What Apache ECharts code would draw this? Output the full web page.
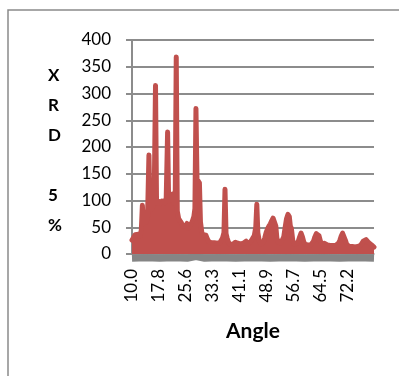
<!DOCTYPE html>
<html>
<head>
<meta charset="utf-8">
<script src="https://cdn.jsdelivr.net/npm/echarts@6/dist/echarts.min.js"></script>
<style>
  html, body { margin: 0; padding: 0; background: #ffffff; }
  #chart { width: 399px; height: 376px; }
</style>
</head>
<body>
<div id="chart"></div>
<script>
// XRD pattern, 5% sample: diffraction angle (deg) vs intensity
const angle = [
  10.0, 10.4, 10.9, 11.4, 11.9, 12.3, 12.7, 13.0, 13.3, 13.7, 14.1, 14.5, 14.9, 15.2, 15.6, 16.0,
  16.4, 16.8, 17.1, 17.5, 17.9, 18.3, 18.7, 19.1, 19.5, 19.9, 20.3, 20.6, 21.0, 21.4, 21.7, 22.1,
  22.5, 22.8, 23.1, 23.5, 23.9, 24.3, 24.7, 25.1, 25.5, 25.9, 26.3, 26.7, 27.1, 27.5, 27.9, 28.2,
  28.5, 28.8, 29.2, 29.5, 29.8, 30.2, 30.6, 31.0, 31.4, 31.8, 32.2, 32.6, 33.0, 33.4, 33.8, 34.2,
  34.6, 35.0, 35.4, 35.8, 36.2, 36.6, 36.9, 37.2, 37.5, 37.9, 38.3, 38.7, 39.1, 39.5, 39.9, 40.2,
  40.6, 41.0, 41.4, 41.8, 42.2, 42.6, 43.0, 43.4, 43.8, 44.2, 44.6, 45.0, 45.4, 45.8, 46.1, 46.4,
  46.8, 47.2, 47.6, 48.0, 48.4, 48.8, 49.2, 49.6, 50.0, 50.4, 50.8, 51.2, 51.6, 51.9, 52.3, 52.7,
  53.1, 53.5, 53.9, 54.3, 54.7, 55.1, 55.5, 55.8, 56.1, 56.5, 56.9, 57.3, 57.7, 58.1, 58.5, 58.9,
  59.3, 59.7, 60.1, 60.5, 60.9, 61.3, 61.7, 62.1, 62.5, 62.9, 63.3, 63.7, 64.1, 64.5, 64.9, 65.3,
  65.7, 66.1, 66.5, 66.9, 67.3, 67.7, 68.1, 68.5, 68.9, 69.3, 69.7, 70.1, 70.5, 70.9, 71.3, 71.7,
  72.1, 72.5, 72.9, 73.3, 73.7, 74.1, 74.5, 74.9, 75.3, 75.7, 76.1, 76.5, 76.9, 77.3, 77.7, 78.1,
  78.5, 78.9, 79.3, 79.7, 80.0
];
const intensity = [
  26, 30, 36, 35, 37, 33, 45, 91, 58, 55, 60, 70, 185, 88, 84, 88,
  95, 315, 95, 92, 98, 94, 99, 100, 96, 105, 228, 98, 100, 108, 112, 95,
  100, 368, 80, 66, 62, 58, 52, 50, 53, 57, 48, 52, 56, 62, 70, 85,
  272, 140, 138, 133, 60, 40, 36, 38, 35, 28, 23, 22, 21, 24, 21, 22,
  20, 22, 21, 24, 30, 40, 121, 38, 30, 22, 18, 20, 18, 19, 22, 25,
  20, 17, 19, 17, 20, 23, 24, 19, 21, 22, 26, 30, 35, 50, 93, 40,
  25, 19, 17, 22, 30, 40, 47, 52, 56, 62, 67, 66, 52, 30, 22, 19,
  21, 24, 32, 50, 66, 74, 70, 52, 48, 25, 18, 17, 20, 24, 32, 39,
  32, 22, 18, 20, 17, 18, 17, 20, 24, 32, 38, 39, 34, 24, 19, 18,
  20, 18, 17, 18, 16, 18, 16, 17, 16, 18, 20, 25, 33, 39, 36, 26,
  18, 16, 14, 16, 14, 15, 13, 16, 14, 13, 16, 20, 24, 27, 27, 24,
  21, 22, 17, 15, 13
];

// Baseline (reference) trace lying just under zero
const baseAngle = [10, 14, 18, 22, 26, 28.5, 31, 35, 40, 45, 50, 55, 60, 65, 70, 75, 80];
const baseline  = [-8, -7, -8, -7, -8, -5, -8, -7, -8, -7, -8, -7, -8, -7, -8, -7, -8];

// Axis label positions along the angle axis
const xTickValues = [10.0, 17.78, 25.56, 33.34, 41.12, 48.90, 56.68, 64.46, 72.24];
const yTicks = [0, 50, 100, 150, 200, 250, 300, 350, 400];

const FONT = 'Lato, "Liberation Sans", sans-serif';
const GRID_GRAY = '#8c8c8c';

const chart = echarts.init(document.getElementById('chart'), null, { renderer: 'canvas' });

chart.setOption({
  animation: false,
  backgroundColor: '#ffffff',
  grid: {
    left: 132, right: 25, top: 40, bottom: 122,
    containLabel: false,
    outerBoundsMode: 'none'
  },
  graphic: [
    {
      type: 'rect',
      shape: { x: 8, y: 10, width: 420, height: 400 },
      style: { fill: 'none', stroke: '#8a8a8a', lineWidth: 1.5 },
      silent: true
    },
    {
      type: 'text',
      left: 48, top: 61,
      style: {
        text: 'X\nR\nD\n\n5\n%',
        font: 'bold 17px ' + FONT,
        fill: '#000000',
        align: 'center',
        lineHeight: 30
      },
      silent: true
    }
  ],
  xAxis: {
    type: 'value',
    min: 10,
    max: 80,
    name: 'Angle',
    nameLocation: 'middle',
    nameGap: 67,
    nameTextStyle: { fontFamily: FONT, fontWeight: 'bold', fontSize: 21, color: '#000000' },
    axisLine: { show: true, lineStyle: { color: GRID_GRAY, width: 1.5 } },
    axisTick: { show: false },
    splitLine: { show: false },
    axisLabel: {
      customValues: xTickValues,
      rotate: 90,
      margin: 15,
      fontFamily: FONT,
      fontSize: 17,
      color: '#000000',
      formatter: v => v.toFixed(1)
    }
  },
  yAxis: {
    type: 'value',
    min: yTicks[0],
    max: yTicks[yTicks.length - 1],
    interval: 50,
    axisLine: { show: true, lineStyle: { color: GRID_GRAY, width: 2 } },
    axisTick: { show: true, inside: false, length: 6, lineStyle: { color: GRID_GRAY, width: 2 } },
    splitLine: { show: true, lineStyle: { color: GRID_GRAY, width: 2 } },
    axisLabel: {
      margin: 21,
      fontFamily: FONT,
      fontSize: 17,
      color: '#000000'
    }
  },
  series: [
    {
      name: 'baseline',
      type: 'line',
      data: baseAngle.map((a, i) => [a, baseline[i]]),
      showSymbol: false,
      clip: false,
      z: 2,
      lineStyle: { color: '#858585', width: 7, cap: 'butt' }
    },
    {
      name: 'XRD 5%',
      type: 'line',
      data: angle.map((a, i) => [a, intensity[i]]),
      showSymbol: false,
      clip: false,
      z: 3,
      lineStyle: { color: '#c0504d', width: 5, cap: 'round', join: 'round' },
      areaStyle: { color: '#c0504d', opacity: 1, origin: 'start' }
    }
  ]
});
</script>
</body>
</html>
